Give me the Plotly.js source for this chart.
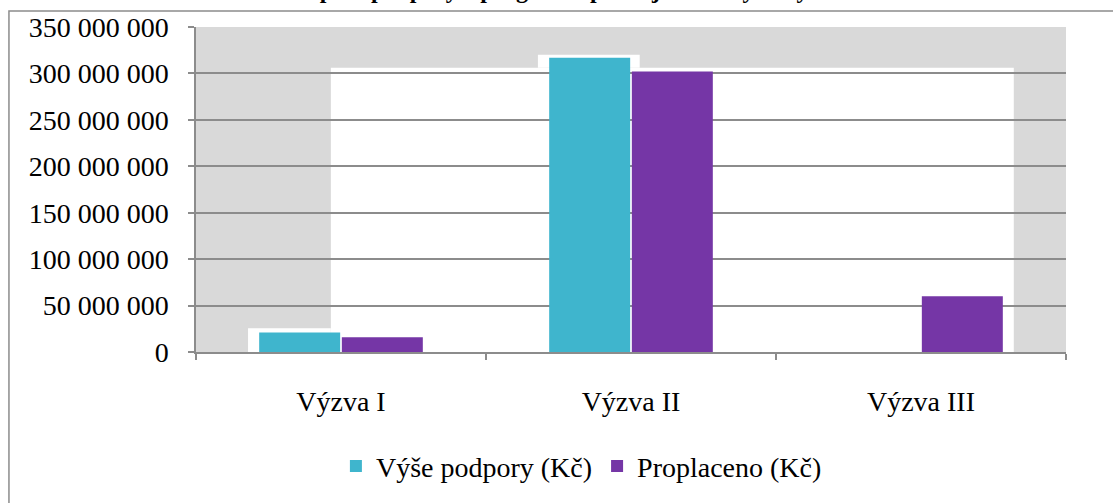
<!DOCTYPE html>
<html>
<head>
<meta charset="utf-8">
<script src="https://cdn.plot.ly/plotly-3.0.1.min.js"></script>
<style>html,body{margin:0;padding:0;background:#fff;}#chart{width:1113px;height:503px;}</style>
</head>
<body>
<div id="chart"></div>
<script>
const categories = ['Výzva I', 'Výzva II', 'Výzva III'];
const seriesNames = ['Výše podpory (Kč)', 'Proplaceno (Kč)'];
const vysePodpory = [21000000, 317000000, 0];
const proplaceno = [16000000, 302000000, 60000000];
const yTicks = [0, 50000000, 100000000, 150000000, 200000000, 250000000, 300000000, 350000000];
const titleText = 'Čerpání podpory z programu podle jednotlivých výzev';

const font = '"Liberation Serif", "Times New Roman", serif';
const fs = 28;

const traces = [
  {type: 'bar', name: seriesNames[0], x: categories, y: vysePodpory,
   marker: {color: '#3fb5cd', line: {color: '#2a7f92', width: 0}}},
  {type: 'bar', name: seriesNames[1], x: categories, y: proplaceno,
   marker: {color: '#7536a6', line: {color: '#52237a', width: 0}}}
];

const layout = {
  width: 1113, height: 503,
  margin: {l: 196, r: 47, t: 27, b: 149},
  paper_bgcolor: '#ffffff',
  plot_bgcolor: '#d9d9d9',
  separators: ', ',
  barmode: 'group',
  bargap: 0.43,
  bargroupgap: 0.02,
  showlegend: true,
  font: {family: font, size: fs, color: '#000'},
  xaxis: {
    type: 'category',
    showgrid: false,
    showline: true, linecolor: '#8c8c8c', linewidth: 1.5,
    ticks: 'outside', tickson: 'boundaries', ticklen: 6, tickcolor: '#8c8c8c', tickwidth: 1.5,
    ticklabelstandoff: 24,
    tickfont: {family: font, size: fs, color: '#000'},
    zeroline: false
  },
  yaxis: {
    range: [0, 350000000],
    tickvals: yTicks,
    tickformat: ',d',
    showgrid: true, gridcolor: '#8c8c8c', gridwidth: 1.5,
    showline: true, linecolor: '#8c8c8c', linewidth: 1.5,
    ticks: 'outside', ticklen: 6, tickcolor: '#8c8c8c', tickwidth: 1.5,
    ticklabelstandoff: 14,
    tickfont: {family: font, size: fs, color: '#000'},
    zeroline: false
  },
  legend: {
    orientation: 'h',
    x: 0.443, xanchor: 'center',
    y: -0.352, yanchor: 'middle',
    font: {family: font, size: fs, color: '#000'},
    itemwidth: 30,
    traceorder: 'normal'
  },
  annotations: [{
    text: '<b>' + titleText + '</b>',
    xref: 'paper', yref: 'paper', x: 0.42, y: 1, xanchor: 'center', yanchor: 'bottom',
    yshift: 22, showarrow: false,
    font: {family: font, size: 24, color: '#000'}
  }],
  shapes: [
    {type: 'rect', xref: 'paper', yref: 'paper', x0: -0.215, x1: 1.2, y0: -0.6, y1: 1.049,
     line: {color: '#8c8c8c', width: 1.5}, fillcolor: 'rgba(0,0,0,0)', layer: 'below'},
    {type: 'rect', xref: 'paper', yref: 'y', x0: 0.155, x1: 0.940, y0: 0, y1: 306000000,
     line: {width: 0}, fillcolor: '#ffffff', layer: 'between'},
    {type: 'rect', xref: 'paper', yref: 'y', x0: 0.0598, x1: 0.155, y0: 0, y1: 25700000,
     line: {width: 0}, fillcolor: '#ffffff', layer: 'between'},
    {type: 'rect', xref: 'paper', yref: 'y', x0: 0.393, x1: 0.510, y0: 306000000, y1: 320000000,
     line: {width: 0}, fillcolor: '#ffffff', layer: 'between'}
  ]
};

Plotly.newPlot('chart', traces, layout, {displayModeBar: false, responsive: false});
</script>
</body>
</html>
